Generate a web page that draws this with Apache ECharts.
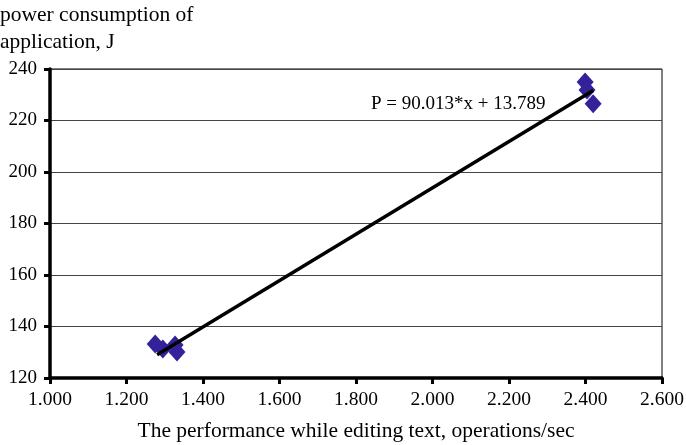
<!DOCTYPE html>
<html><head><meta charset="utf-8">
<script src="https://cdn.jsdelivr.net/npm/echarts@6/dist/echarts.min.js"></script>
<style>html,body{margin:0;padding:0;background:#fff}#c{width:686px;height:445px}</style>
</head><body><div id="c"></div>
<script>
const xValues = [1.275, 1.295, 1.327, 1.332, 2.399, 2.404, 2.420];
const yValues = [133.2, 131.3, 132.8, 130.1, 235.0, 231.8, 226.5];
const slope = 90.013, intercept = 13.789;
const xTicks = [1.0, 1.2, 1.4, 1.6, 1.8, 2.0, 2.2, 2.4, 2.6];
const yTicks = [120, 140, 160, 180, 200, 220, 240];
const yTitle = ['power consumption of', 'application, J'];
const xTitle = 'The performance while editing text, operations/sec';
const eqLabel = 'P = 90.013*x + 13.789';

const font = '"Liberation Serif", "Times New Roman", serif';
const pts = xValues.map((x, i) => [x, yValues[i]]);
const xmin = 1.28, xmax = 2.42;
const fitLine = [[xmin, slope * xmin + intercept], [xmax, slope * xmax + intercept]];

const chart = echarts.init(document.getElementById('c'), null, {renderer: 'canvas'});
chart.setOption({
  animation: false,
  grid: {left: 50, right: 24, top: 69, bottom: 67, show: true, borderColor: '#000', borderWidth: 1,
    containLabel: false, outerBoundsMode: 'none'},
  xAxis: {
    type: 'value', min: 1.0, max: 2.6, interval: 0.2,
    axisLine: {lineStyle: {color: '#000', width: 3.5}},
    axisTick: {length: 6, lineStyle: {color: '#000', width: 3}},
    splitLine: {show: false},
    axisLabel: {color: '#000', fontFamily: font, fontSize: 19.5, margin: 12,
      formatter: v => v.toFixed(3)},
    name: xTitle, nameLocation: 'middle', nameGap: 42,
    nameTextStyle: {color: '#000', fontFamily: font, fontSize: 21.5}
  },
  yAxis: {
    type: 'value', min: 120, max: 240, interval: 20,
    axisLine: {lineStyle: {color: '#000', width: 3.5}},
    axisTick: {length: 6, lineStyle: {color: '#000', width: 3}},
    splitLine: {lineStyle: {color: '#444', width: 1}},
    axisLabel: {color: '#000', fontFamily: font, fontSize: 19, margin: 13}
  },
  graphic: [
    {type: 'text', left: 0, top: 2, style: {text: yTitle.join('\n'), font: '21.5px ' + font, fill: '#000', lineHeight: 27}},
    {type: 'text', left: 371, top: 95, style: {text: eqLabel, font: '19px ' + font, fill: '#000'}}
  ],
  series: [
    {type: 'scatter', data: pts, symbol: 'diamond', symbolSize: [17, 19],
      itemStyle: {color: '#33229a', opacity: 1}, z: 2},
    {type: 'line', data: fitLine, symbol: 'none', lineStyle: {color: '#000', width: 3.5}, z: 3}
  ]
});
</script></body></html>
